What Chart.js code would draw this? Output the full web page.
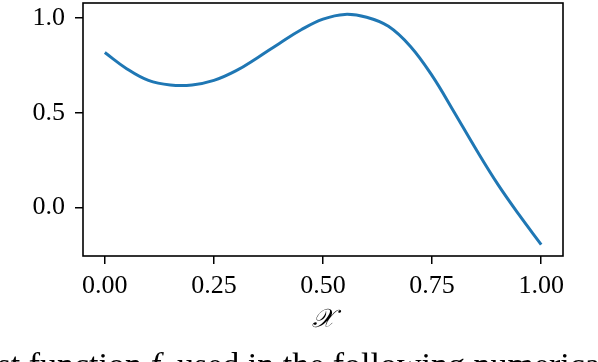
<!DOCTYPE html>
<html>
<head>
<meta charset="utf-8">
<script src="https://cdn.jsdelivr.net/npm/chart.js@4"></script>
<style>
  html, body { margin: 0; padding: 0; background: #fff; overflow: hidden; }
  #wrap { position: relative; width: 598px; height: 362px; overflow: hidden; }
  #caption {
    position: absolute; left: -36px; top: 348px; white-space: nowrap;
    font-family: 'Liberation Serif', serif; font-size: 34px; line-height: 34px; color: #000;
  }
</style>
</head>
<body>
<div id="wrap">
  <canvas id="c" width="598" height="362"></canvas>
  <div id="caption">Test function <i>f</i>&nbsp; used in the following numerical experiments.</div>
</div>
<script>
// values
const xs = [0, 0.05, 0.10, 0.15, 0.20, 0.25, 0.30, 0.35, 0.40, 0.45, 0.50,
            0.55, 0.60, 0.65, 0.70, 0.75, 0.80, 0.85, 0.90, 0.95, 1.00];
const ys = [0.817, 0.732, 0.670, 0.646, 0.646, 0.670, 0.720, 0.790, 0.865, 0.937, 0.993,
            1.018, 1.003, 0.955, 0.850, 0.695, 0.505, 0.310, 0.125, -0.040, -0.195];
const xTicks = [0, 0.25, 0.5, 0.75, 1.0];
const yTicks = [0, 0.5, 1.0];

const FONT = { family: "'Liberation Serif', serif", size: 26 };

// draws the full box around the plot area like matplotlib spines
const boxPlugin = {
  id: 'box',
  afterDraw(chart) {
    const a = chart.chartArea, ctx = chart.ctx;
    ctx.save();
    ctx.strokeStyle = '#000';
    ctx.lineWidth = 1.6;
    ctx.strokeRect(a.left, a.top, a.right - a.left, a.bottom - a.top);
    ctx.restore();
  }
};

new Chart(document.getElementById('c'), {
  type: 'line',
  data: {
    datasets: [{
      data: xs.map((x, i) => ({ x: x, y: ys[i] })),
      borderColor: '#1f77b4',
      borderWidth: 3,
      pointRadius: 0,
      tension: 0.4,
      fill: false
    }]
  },
  options: {
    responsive: false,
    animation: false,
    layout: { padding: { left: 0, top: 3, right: 35, bottom: 0 } },
    plugins: { legend: { display: false }, tooltip: { enabled: false } },
    scales: {
      x: {
        type: 'linear',
        min: -0.05, max: 1.05,
        afterBuildTicks: s => { s.ticks = xTicks.map(v => ({ value: v })); },
        afterFit: s => { s.height = 106; s.paddingLeft = 0; s.paddingRight = 0; },
        grid: { drawOnChartArea: false, drawTicks: true, tickLength: 8, color: '#000', lineWidth: 1.5 },
        border: { display: false },
        ticks: { color: '#000', font: FONT, padding: 7, maxRotation: 0,
                 callback: v => Number(v).toFixed(2) },
        title: { display: true, text: '𝒳', color: '#000',
                 font: { family: "'DejaVu Serif', serif", size: 26, style: 'italic' },
                 padding: { top: 0, bottom: 26 } }
      },
      y: {
        min: -0.255, max: 1.078,
        afterBuildTicks: s => { s.ticks = yTicks.map(v => ({ value: v })); },
        afterFit: s => { s.width = 83; s.paddingTop = 0; s.paddingBottom = 0; },
        grid: { drawOnChartArea: false, drawTicks: true, tickLength: 8, color: '#000', lineWidth: 1.5 },
        border: { display: false },
        ticks: { color: '#000', font: FONT, padding: 10,
                 callback: v => Number(v).toFixed(1) }
      }
    }
  },
  plugins: [boxPlugin]
});
</script>
</body>
</html>
